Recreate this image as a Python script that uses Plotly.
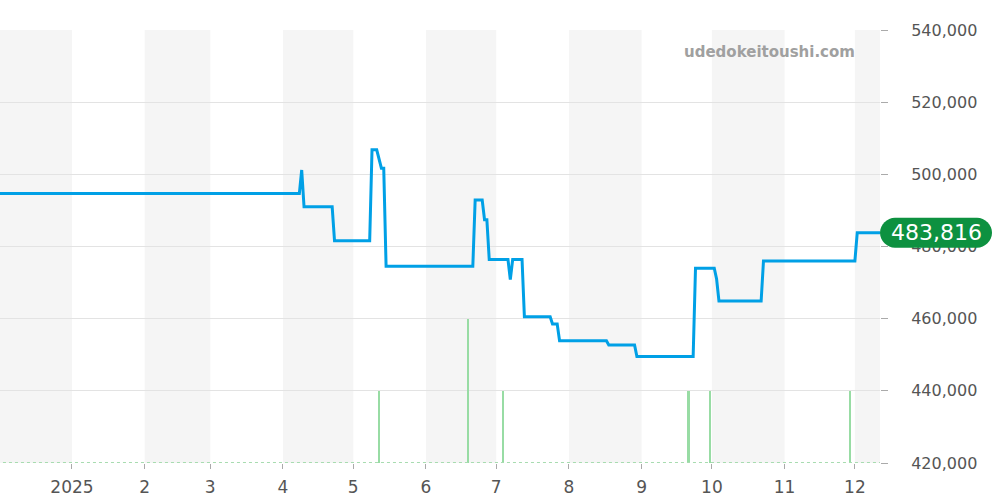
import plotly.graph_objects as go

# price series (step-like daily data at transitions)
price_dates = [
    "2024-11-30", "2025-04-08", "2025-04-09", "2025-04-10", "2025-04-22", "2025-04-23",
    "2025-05-08", "2025-05-09", "2025-05-11", "2025-05-13", "2025-05-14", "2025-05-15",
    "2025-06-21", "2025-06-22", "2025-06-25", "2025-06-26", "2025-06-27", "2025-06-28",
    "2025-07-06", "2025-07-07", "2025-07-08", "2025-07-12", "2025-07-13",
    "2025-07-24", "2025-07-25", "2025-07-27", "2025-07-28",
    "2025-08-17", "2025-08-18", "2025-08-29", "2025-08-30",
    "2025-09-23", "2025-09-24", "2025-10-02", "2025-10-03", "2025-10-04",
    "2025-10-22", "2025-10-23", "2025-12-01", "2025-12-02", "2025-12-12",
]
price_values = [
    494700, 494700, 501200, 491000, 491000, 481600,
    481600, 506800, 506800, 501700, 501700, 474500,
    474500, 492900, 492900, 487400, 487400, 476400,
    476400, 470800, 476400, 476400, 460500,
    460500, 458500, 458500, 453900,
    453900, 452700, 452700, 449500,
    449500, 474000, 474000, 471000, 464900,
    464900, 476000, 476000, 483816, 483816,
]

# trading volume (secondary axis)
volume_dates = ["2025-05-12", "2025-06-19", "2025-07-04", "2025-09-21", "2025-09-30", "2025-11-29"]
volume_values = [1, 2, 1, 1, 1, 1]

# month ticks
tick_dates = ["2025-01-01", "2025-02-01", "2025-03-01", "2025-04-01", "2025-05-01", "2025-06-01",
              "2025-07-01", "2025-08-01", "2025-09-01", "2025-10-01", "2025-11-01", "2025-12-01"]
tick_labels = ["2025", "2", "3", "4", "5", "6", "7", "8", "9", "10", "11", "12"]

# shaded month bands (start, end)
band_starts = ["2024-12-01", "2025-02-01", "2025-04-01", "2025-06-01", "2025-08-01", "2025-10-01", "2025-12-01"]
band_ends = ["2025-01-01", "2025-03-01", "2025-05-01", "2025-07-01", "2025-09-01", "2025-11-01", "2026-01-01"]

x_range = ["2024-12-01 07:00", "2025-12-11 17:00"]
y_range = [420000, 540000]

FONT = "DejaVu Sans"
fig = go.Figure()

# volume baseline (dotted) and bars
fig.add_trace(go.Scatter(
    x=[price_dates[0], price_dates[-1]], y=[0, 0], yaxis="y2", mode="lines",
    line=dict(color="#a8dcb0", width=2, dash="dot"), hoverinfo="skip", showlegend=False))
fig.add_trace(go.Bar(
    x=volume_dates, y=volume_values, yaxis="y2",
    marker=dict(color="#98dca4", line=dict(width=0)),
    width=0.9 * 86400000, showlegend=False))

fig.add_trace(go.Scatter(
    x=price_dates, y=price_values, mode="lines",
    line=dict(color="#00a0e6", width=3), showlegend=False))

shapes = []
for s, e in zip(band_starts, band_ends):
    shapes.append(dict(type="rect", xref="x", yref="paper", x0=s, x1=e, y0=0, y1=1,
                       fillcolor="#f5f5f5", line=dict(width=0), layer="below"))

last_val = price_values[-1]
# pill-shaped label background anchored at the last value
pill = "M 15,-15 L 97,-15 C 105,-15 112,-8 112,0 C 112,8 105,15 97,15 L 15,15 C 7,15 0,8 0,0 C 0,-8 7,-15 15,-15 Z"
shapes.append(dict(type="path", xref="paper", yref="y", xsizemode="pixel", ysizemode="pixel",
                   xanchor=1, yanchor=last_val, path=pill,
                   fillcolor="#0d9140", line=dict(width=0), layer="above"))

fig.update_layout(
    width=1000, height=500,
    margin=dict(l=0, r=120, t=30, b=37, autoexpand=False),
    paper_bgcolor="white", plot_bgcolor="white",
    font=dict(family=FONT, color="#555"),
    shapes=shapes,
    bargap=0,
    xaxis=dict(type="date", range=x_range, tickvals=tick_dates, ticktext=tick_labels,
               showgrid=False, zeroline=False, ticks="outside", ticklen=5, tickcolor="#aaa",
               ticklabelstandoff=4,
               tickfont=dict(size=17, color="#555"), showline=False),
    yaxis=dict(range=y_range, side="right", tickformat=",", dtick=20000,
               showgrid=True, gridcolor="#e3e3e3", zeroline=False,
               ticks="outside", ticklen=7, tickcolor="#aaa", ticklabelstandoff=20,
               tickfont=dict(size=16, color="#555")),
    yaxis2=dict(range=[0, 6], overlaying="y", visible=False, showgrid=False),
    annotations=[
        dict(text="udedokeitoushi.com", xref="paper", yref="paper", x=0.974, y=0.95,
             xanchor="right", yanchor="middle", showarrow=False,
             font=dict(family=FONT, size=15, color="#a0a0a0", weight="bold")),
        dict(text=f"{last_val:,}", xref="paper", yref="y", x=1, y=last_val,
             xshift=56, xanchor="center", yanchor="middle", showarrow=False,
             font=dict(family=FONT, size=22, color="white")),
    ],
)

fig.write_html("out.html", config={"displayModeBar": False},
               post_script="document.body.style.margin='0';")
